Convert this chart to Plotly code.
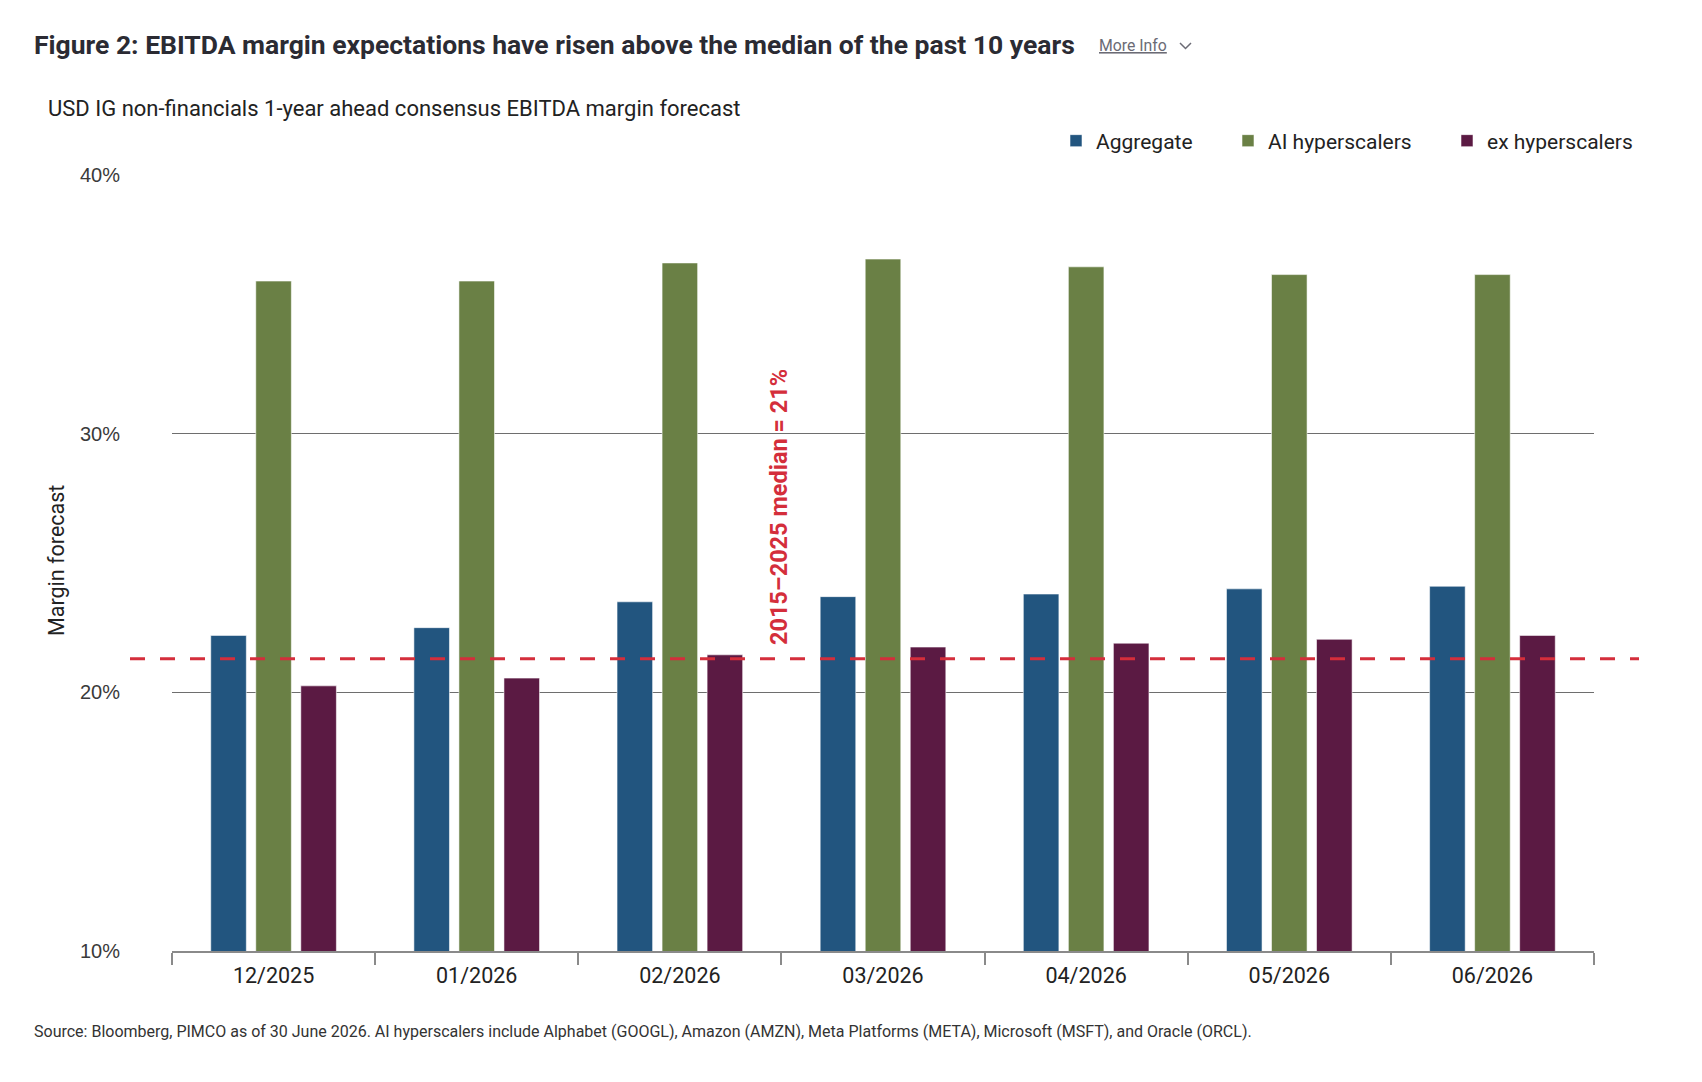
import plotly.graph_objects as go

# ---------------- data ----------------
categories = ["12/2025", "01/2026", "02/2026", "03/2026", "04/2026", "05/2026", "06/2026"]
aggregate = [22.2, 22.5, 23.5, 23.7, 23.8, 24.0, 24.1]
ai_hyperscalers = [35.9, 35.9, 36.6, 36.75, 36.45, 36.15, 36.15]
ex_hyperscalers = [20.25, 20.55, 21.45, 21.75, 21.9, 22.05, 22.2]
median_value = 21.3
median_label = "2015\u20132025 median = 21%"
y_ticks = [10, 20, 30, 40]

series_names = ["Aggregate", "AI hyperscalers", "ex hyperscalers"]
series_colors = ["#22557f", "#6a8045", "#5b1a43"]

title_text = "Figure 2: EBITDA margin expectations have risen above the median of the past 10 years"
subtitle_text = "USD IG non-financials 1-year ahead consensus EBITDA margin forecast"
source_text = ("Source: Bloomberg, PIMCO as of 30 June 2026. AI hyperscalers include Alphabet (GOOGL), "
               "Amazon (AMZN), Meta Platforms (META), Microsoft (MSFT), and Oracle (ORCL).")

# ---------------- layout geometry (pixels) ----------------
W, H = 1702, 1082
ML, MR, MT, MB = 172, 108, 175, 131
PW, PH = W - ML - MR, H - MT - MB


def px(x):
    return (x - ML) / PW


def py(y):
    return (H - MB - y) / PH


FONT = "Roboto, 'Noto Sans', sans-serif"
TXT = "#222222"

fig = go.Figure()
legend_ids = ["legend", "legend2", "legend3"]
for name, vals, col, lg in zip(series_names, [aggregate, ai_hyperscalers, ex_hyperscalers],
                               series_colors, legend_ids):
    fig.add_trace(go.Bar(
        x=categories, y=vals, name=name, legend=lg,
        marker=dict(color=col, line=dict(color="rgba(255,255,255,0.55)", width=1)),
        hoverinfo="skip",
    ))

legend_common = dict(orientation="h", yanchor="middle", y=py(141), xanchor="left",
                     font=dict(family=FONT, size=21, color=TXT), bgcolor="rgba(0,0,0,0)")

fig.update_layout(
    width=W, height=H,
    margin=dict(l=ML, r=MR, t=MT, b=MB, pad=0),
    paper_bgcolor="white", plot_bgcolor="white",
    barmode="group", bargap=0.335, bargroupgap=0.21,
    showlegend=True,
    legend=dict(x=px(1056), **legend_common),
    legend2=dict(x=px(1228), **legend_common),
    legend3=dict(x=px(1447), **legend_common),
    xaxis=dict(
        type="category", showgrid=False, showline=True, linecolor="#8a8a8a", linewidth=1.5,
        ticks="outside", tickson="boundaries", ticklen=12, tickcolor="#8a8a8a", tickwidth=1.5,
        ticklabelstandoff=4,
        tickfont=dict(family=FONT, size=21.5, color=TXT),
        range=[-0.5, len(categories) - 0.5], fixedrange=True,
    ),
    yaxis=dict(
        range=[10, 40], tickvals=y_ticks, ticktext=[f"{v}%" for v in y_ticks],
        showgrid=True, gridcolor="#6e6e6e", gridwidth=1, zeroline=False, showline=False,
        ticks="", ticklabelstandoff=51,
        tickfont=dict(family="'Liberation Sans', Arial, sans-serif", size=20, color="#3a3a3a"),
        fixedrange=True,
    ),
)

# median line (extends beyond plot area like the reference)
fig.add_shape(type="line", xref="paper", yref="y", x0=px(130), x1=px(1639),
              y0=median_value, y1=median_value,
              line=dict(color="#d42e3b", width=3, dash="15px,15px"), layer="above")

annotations = [
    dict(text=f"<b>{title_text}</b>", x=px(32), y=py(45), xref="paper", yref="paper",
         xanchor="left", yanchor="middle", showarrow=False,
         font=dict(family=FONT, size=26.5, color="#2b2b33")),
    dict(text="<u>More Info</u>", x=px(1097), y=py(46), xref="paper", yref="paper",
         xanchor="left", yanchor="middle", showarrow=False,
         font=dict(family=FONT, size=15.8, color="#6b6b75")),
    dict(text=subtitle_text, x=px(46), y=py(108), xref="paper", yref="paper",
         xanchor="left", yanchor="middle", showarrow=False,
         font=dict(family=FONT, size=22, color=TXT)),
    dict(text="Margin forecast", x=px(56), y=py(561), xref="paper", yref="paper",
         xanchor="center", yanchor="middle", textangle=-90, showarrow=False,
         font=dict(family=FONT, size=21.5, color=TXT)),
    dict(text=source_text, x=px(32), y=py(1031), xref="paper", yref="paper",
         xanchor="left", yanchor="middle", showarrow=False,
         font=dict(family=FONT, size=16, color="#333333")),
    dict(text=f"<b>{median_label}</b>", x=2.485, y=median_value, xref="x", yref="y",
         xanchor="center", yanchor="bottom", yshift=12, textangle=-90, showarrow=False,
         font=dict(family=FONT, size=23.5, color="#d42e3b")),
]
fig.update_layout(annotations=annotations)

# "More Info" chevron
fig.add_shape(type="path", xref="paper", yref="paper",
              path=f"M {px(1180)} {py(43)} L {px(1185.5)} {py(48.5)} L {px(1191)} {py(43)}",
              line=dict(color="#6b6b75", width=1.5))

fig.write_html("out.html", include_plotlyjs=True, config={"displayModeBar": False})
